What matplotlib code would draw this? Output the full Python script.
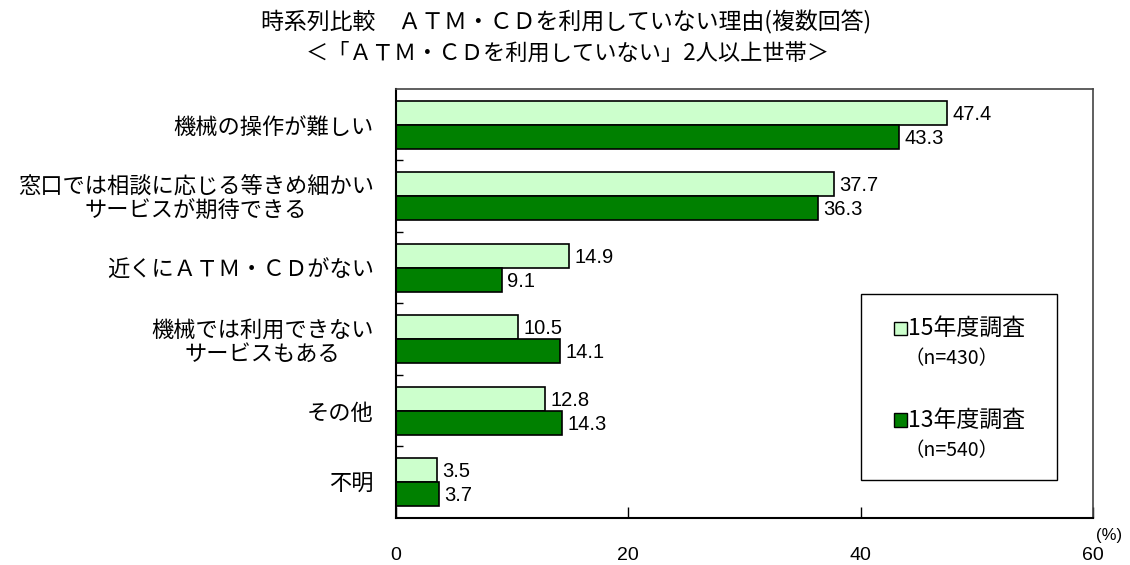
import numpy as np
import matplotlib.pyplot as plt
from matplotlib.patches import Rectangle

plt.rcParams['font.family'] = ['Liberation Sans', 'Noto Sans CJK JP', 'DejaVu Sans']

categories = ["機械の操作が難しい",
              "窓口では相談に応じる等きめ細かい\nサービスが期待できる",
              "近くにＡＴＭ・ＣＤがない",
              "機械では利用できない\nサービスもある",
              "その他",
              "不明"]
survey15 = [47.4, 37.7, 14.9, 10.5, 12.8, 3.5]
survey13 = [43.3, 36.3, 9.1, 14.1, 14.3, 3.7]
series_names = ["15年度調査", "13年度調査"]
series_n = ["（n=430）", "（n=540）"]
xticks = [0, 20, 40, 60]

light = '#CCFFCC'
dark = '#008000'
cjk = ['Noto Sans CJK JP', 'DejaVu Sans']

fig = plt.figure(figsize=(11.3, 5.65), dpi=100)
ax = fig.add_axes([0.3504, 0.0832, 0.6168, 0.7593])

y = np.arange(len(categories))
h = 0.335
b15 = ax.barh(y - h / 2, survey15, height=h, color=light, edgecolor='black', linewidth=1.2)
b13 = ax.barh(y + h / 2, survey13, height=h, color=dark, edgecolor='black', linewidth=1.2)

for bars, vals in ((b15, survey15), (b13, survey13)):
    for rect, v in zip(bars, vals):
        ax.annotate(f"{v:.1f}", (v, rect.get_y() + rect.get_height() / 2),
                    xytext=(4, -1), textcoords='offset points',
                    va='center', ha='left', fontsize=14.5)

ax.set_xlim(0, 60)
ax.set_ylim(len(categories) - 0.5, -0.5)

# ticks at group boundaries, labels at group centres
ax.set_yticks(np.arange(len(categories) - 1) + 0.5)
ax.set_yticklabels([])
ax.set_yticks(y, minor=True)
ax.set_yticklabels(categories, minor=True, fontsize=16, family=cjk)
for lbl in ax.get_yticklabels(minor=True):
    lbl.set_multialignment('center')
    lbl.set_linespacing(1.05)
ax.tick_params(axis='y', which='major', direction='in', length=5, width=1)
ax.tick_params(axis='y', which='minor', length=0, pad=16)

ax.set_xticks(xticks)
ax.set_xticklabels([str(t) for t in xticks], fontsize=14)
ax.tick_params(axis='x', direction='in', length=8, width=1, pad=21)

for side in ['left', 'bottom']:
    ax.spines[side].set_linewidth(1.5)
for side in ['right', 'top']:
    ax.spines[side].set_color('#444444')
    ax.spines[side].set_linewidth(1.2)

ax.text(1.004, -0.04, "(%)", transform=ax.transAxes, fontsize=12, ha='left', va='center')

# legend box
ax.add_patch(Rectangle((0.667, 0.0886), 0.281, 0.4334, transform=ax.transAxes,
                       facecolor='white', edgecolor='black', linewidth=1, zorder=3))
for k, (name, n, col) in enumerate(zip(series_names, series_n, [light, dark])):
    yy = 0.442 - k * 0.214
    ax.add_patch(Rectangle((0.714, yy - 0.016), 0.019, 0.032, transform=ax.transAxes,
                           facecolor=col, edgecolor='black', linewidth=1, zorder=4))
    ax.text(0.735, yy, name, transform=ax.transAxes, fontsize=16.5, va='center', ha='left',
            family=cjk, zorder=5)
    ax.text(0.730, yy - 0.07, n, transform=ax.transAxes, fontsize=14, va='center', ha='left',
            family=cjk, zorder=5)

fig.text(0.501, 0.961, "時系列比較　ＡＴＭ・ＣＤを利用していない理由(複数回答)",
         ha='center', va='center', fontsize=16.5, family=cjk)
fig.text(0.502, 0.906, "＜「ＡＴＭ・ＣＤを利用していない」2人以上世帯＞",
         ha='center', va='center', fontsize=16, family=cjk)

fig.savefig('out.png', dpi=100, facecolor='white')
